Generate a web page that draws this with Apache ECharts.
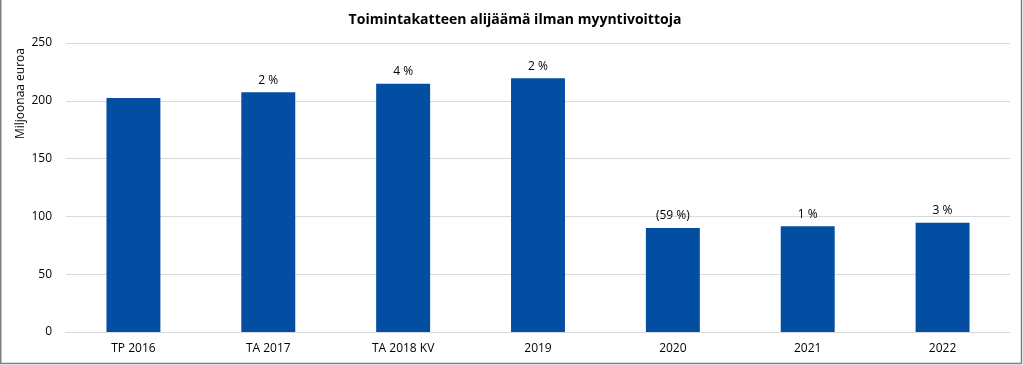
<!DOCTYPE html>
<html>
<head>
<meta charset="utf-8">
<script src="https://cdn.jsdelivr.net/npm/echarts@6/dist/echarts.min.js"></script>
<style>
html,body{margin:0;padding:0;background:#fff;}
#c{width:1023px;height:365px;}
</style>
</head>
<body>
<div id="c"></div>
<script>
const categories = ["TP 2016", "TA 2017", "TA 2018 KV", "2019", "2020", "2021", "2022"];
const values = [202.4, 207.3, 214.8, 219.4, 90.0, 91.4, 94.6];
const changeLabels = ["", "2 %", "4 %", "2 %", "(59 %)", "1 %", "3 %"];
const yTicks = { min: 0, max: 250, interval: 50 };
const titleText = "Toimintakatteen alijäämä ilman myyntivoittoja";
const yAxisTitle = "Miljoonaa euroa";

const FONT = "Open Sans";
const chart = echarts.init(document.getElementById('c'), null, { renderer: 'canvas' });
chart.setOption({
  animation: false,
  backgroundColor: '#ffffff',
  title: {
    text: titleText,
    left: 510, top: 8, textAlign: 'center',
    textStyle: { fontFamily: FONT, fontSize: 14, fontWeight: 'bold', color: '#000' }
  },
  grid: { left: 66, right: 13, top: 43, bottom: 33, containLabel: false },
  xAxis: {
    type: 'category',
    data: categories,
    axisLine: { show: true, lineStyle: { color: '#d9d9d9' } },
    axisTick: { show: false },
    axisLabel: { fontFamily: FONT, fontSize: 12, color: '#000', margin: 11 }
  },
  yAxis: {
    type: 'value',
    min: yTicks.min, max: yTicks.max, interval: yTicks.interval,
    axisLine: { show: false },
    axisTick: { show: false },
    splitLine: { lineStyle: { color: '#d9d9d9', width: 1 } },
    axisLabel: { fontFamily: FONT, fontSize: 12, color: '#000', margin: 14 }
  },
  graphic: [
    {
      type: 'text', left: 15, top: 48, rotation: Math.PI / 2,
      style: { text: yAxisTitle, fontFamily: FONT, fontSize: 12, fill: '#000' }
    },
    {
      type: 'polyline',
      shape: { points: [[0.75, 0], [0.75, 363.5], [1021.5, 363.5], [1021.5, 0]] },
      style: { fill: 'none', stroke: '#808080', lineWidth: 1.5 }, silent: true, z: 100
    }
  ],
  series: [{
    type: 'bar',
    data: values.map((v, i) => ({ value: v, label: { formatter: changeLabels[i] } })),
    barWidth: '40%',
    itemStyle: { color: '#034ea2' },
    label: {
      show: true, position: 'top', distance: 6,
      fontFamily: FONT, fontSize: 12, color: '#000'
    }
  }]
});
</script>
</body>
</html>
